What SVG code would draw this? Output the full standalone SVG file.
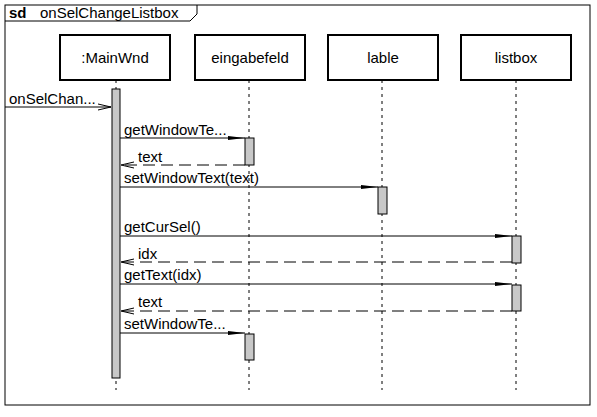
<svg xmlns="http://www.w3.org/2000/svg" width="597" height="417" viewBox="0 0 597 417">
<defs>
<style>
text{font-family:"Liberation Sans",Arial,sans-serif;font-size:15px;fill:#000}
.box{fill:#fff;stroke:#000;stroke-width:2}
.life{stroke:#000;stroke-width:1;stroke-dasharray:3 4;fill:none}
.act{fill:#c8c8c8;stroke:#000;stroke-width:1}
.msg{stroke:#000;stroke-width:1;fill:none}
.ret{stroke:#000;stroke-width:1;fill:none;stroke-dasharray:12 6}
</style>
<marker id="sync" markerWidth="18" markerHeight="8" refX="17" refY="4" orient="auto" markerUnits="userSpaceOnUse">
<path d="M0,2 L17,4 L0,6 Z" fill="#000"/>
</marker>
<marker id="open" markerWidth="14" markerHeight="8" refX="13" refY="4" orient="auto" markerUnits="userSpaceOnUse">
<path d="M0,1 L13,4 L0,7" fill="none" stroke="#000" stroke-width="1"/>
</marker>
</defs>
<rect x="0" y="0" width="597" height="417" fill="#fff"/>
<g id="frame">
<rect x="5" y="5" width="585" height="400" fill="none" stroke="#000" stroke-width="1"/>
<path d="M5,21 L190,21 L197,14 L197,5" fill="none" stroke="#000" stroke-width="1"/>
<text x="9" y="18" font-weight="bold">sd</text>
<text x="40" y="18">onSelChangeListbox</text>
</g>
<g id="MainWnd">
<rect class="box" x="60" y="35" width="110" height="45"/>
<text x="115" y="63" text-anchor="middle">:MainWnd</text>
<line class="life" x1="116" y1="80" x2="116" y2="390"/>
<rect class="act" x="112" y="89" width="8" height="289"/>
</g>
<g id="eingabefeld">
<rect class="box" x="195" y="35" width="110" height="45"/>
<text x="250" y="63" text-anchor="middle">eingabefeld</text>
<line class="life" x1="249" y1="80" x2="249" y2="390"/>
<rect class="act" x="245" y="138" width="9" height="27"/>
<rect class="act" x="245" y="334" width="9" height="26"/>
</g>
<g id="lable">
<rect class="box" x="328" y="35" width="110" height="45"/>
<text x="383" y="63" text-anchor="middle">lable</text>
<line class="life" x1="382" y1="80" x2="382" y2="390"/>
<rect class="act" x="378" y="187" width="9" height="27"/>
</g>
<g id="listbox">
<rect class="box" x="461" y="35" width="110" height="45"/>
<text x="516" y="63" text-anchor="middle">listbox</text>
<line class="life" x1="516" y1="80" x2="516" y2="390"/>
<rect class="act" x="512" y="236" width="9" height="27"/>
<rect class="act" x="512" y="285" width="9" height="26"/>
</g>
<g id="connectors">
<line class="msg" x1="5" y1="107" x2="111" y2="107" marker-end="url(#open)"/>
<text x="9" y="104">onSelChan...</text>
<line class="msg" x1="120" y1="138" x2="245" y2="138" marker-end="url(#sync)"/>
<text x="124" y="135">getWindowTe...</text>
<line class="ret" x1="245" y1="165" x2="121" y2="165" marker-end="url(#open)"/>
<text x="138" y="162">text</text>
<line class="msg" x1="120" y1="187" x2="378" y2="187" marker-end="url(#sync)"/>
<text x="124" y="183">setWindowText(text)</text>
<line class="msg" x1="120" y1="236" x2="512" y2="236" marker-end="url(#sync)"/>
<text x="124" y="232">getCurSel()</text>
<line class="ret" x1="512" y1="262" x2="121" y2="262" marker-end="url(#open)"/>
<text x="138" y="259">idx</text>
<line class="msg" x1="120" y1="284" x2="512" y2="284" marker-end="url(#sync)"/>
<text x="124" y="280">getText(idx)</text>
<line class="ret" x1="512" y1="311" x2="121" y2="311" marker-end="url(#open)"/>
<text x="138" y="307">text</text>
<line class="msg" x1="120" y1="333" x2="245" y2="333" marker-end="url(#sync)"/>
<text x="124" y="329">setWindowTe...</text>
</g>
</svg>
